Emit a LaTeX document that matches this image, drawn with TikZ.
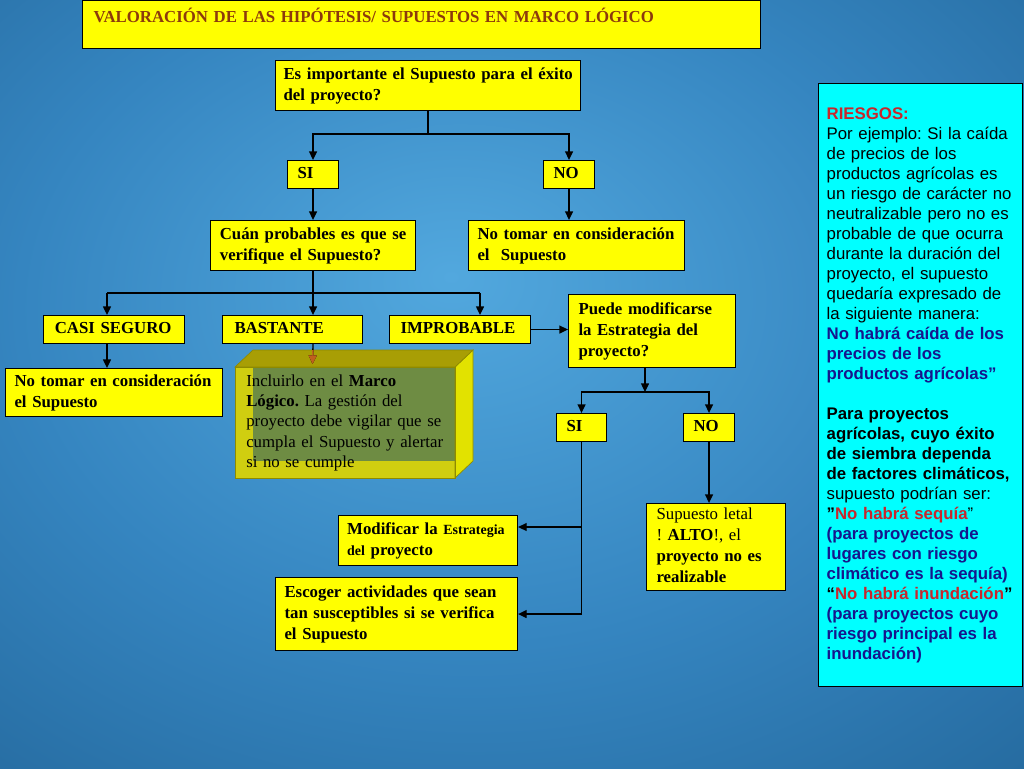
\documentclass[tikz,border=0pt]{standalone}
\usepackage{fontspec}
\setmainfont{Liberation Serif}
\newfontfamily\panelfont{Liberation Sans}
\usetikzlibrary{arrows.meta,calc}
\definecolor{yfill}{HTML}{FFFF00}
\definecolor{ttl}{HTML}{8C3A0C}
\definecolor{pancyan}{HTML}{00FFFF}
\definecolor{rred}{HTML}{C8262C}
\definecolor{rblue}{HTML}{16168C}
\definecolor{bgA}{HTML}{52A8DE}
\definecolor{bgB}{HTML}{3585C0}
\definecolor{bgC}{HTML}{1C5B8C}
\definecolor{bgD}{HTML}{0B3D66}
\definecolor{cubefront}{HTML}{D0CE10}
\definecolor{cubeinner}{HTML}{6E8C43}
\definecolor{cubetop}{HTML}{A89E05}
\definecolor{cuberight}{HTML}{E2E200}
\definecolor{cubeedge}{HTML}{8E8A00}
\definecolor{arrorange}{HTML}{C0601E}
\pgfdeclareradialshading{bgsh}{\pgfpoint{-3bp}{7bp}}{color(0bp)=(bgA); color(22bp)=(bgB); color(50bp)=(bgC); color(72bp)=(bgD)}
\newcommand\boxfs{\fontsize{12.6pt}{15.8pt}\selectfont}
\newcommand\smallfs{\fontsize{10.5pt}{12pt}\selectfont}
\newcommand\tlines[1]{\begin{tabular}{@{}l@{}}#1\end{tabular}}
\frenchspacing
\begin{document}
\frenchspacing
\begin{tikzpicture}[x=0.75pt,y=-0.75pt,
  ybox/.style={draw=black, line width=0.8pt, fill=yfill, font=\boxfs\bfseries\frenchspacing,
    align=left, anchor=north west, inner ysep=1pt, inner xsep=6pt},
  ln/.style={line width=1pt, black},
  arr/.style={ln, -{Triangle[length=6.5pt,width=6pt]}}]
\useasboundingbox (0,0) rectangle (1024,768);
\shade[shading=bgsh] (0,0) rectangle (1024,768);

% title
\node[ybox, minimum width=508.5pt, minimum height=36pt, text width=492pt,
  inner xsep=8.25pt, inner ysep=3pt, text height=13.5pt, text depth=16.5pt, text=ttl]
  (title) at (82,0) {\tlines{VALORACIÓN DE LAS HIPÓTESIS/ SUPUESTOS EN MARCO LÓGICO}};

% flow boxes
\node[ybox, minimum width=228.75pt, minimum height=37.5pt, text width=216.75pt]
  (q1) at (275,60) {\tlines{Es importante el Supuesto para el éxito\\del proyecto?}};
\node[ybox, minimum width=38.25pt, minimum height=21pt, inner xsep=7.5pt, text width=23.25pt]
  (si1) at (287,160) {\tlines{SI}};
\node[ybox, minimum width=38.25pt, minimum height=21pt, inner xsep=7.5pt, text width=23.25pt]
  (no1) at (543,160) {\tlines{NO}};
\node[ybox, minimum width=153.75pt, minimum height=37.5pt, inner xsep=7pt, text width=139.75pt]
  (q2) at (210,220) {\tlines{Cuán probables es que se\\verifique el Supuesto?}};
\node[ybox, minimum width=162pt, minimum height=37.5pt, inner xsep=6.75pt, text width=148.5pt]
  (nt1) at (468,220) {\tlines{No tomar en consideración\\el\ \ Supuesto}};
\node[ybox, minimum width=105.75pt, minimum height=21pt, inner xsep=8.5pt, text width=88.75pt]
  (casi) at (43,315) {\tlines{CASI SEGURO}};
\node[ybox, minimum width=105pt, minimum height=21pt, inner xsep=9pt, text width=87pt]
  (bast) at (222,315) {\tlines{BASTANTE}};
\node[ybox, minimum width=105.75pt, minimum height=21pt, inner xsep=8.25pt, text width=89.25pt]
  (impr) at (389,315) {\tlines{IMPROBABLE}};
\node[ybox, minimum width=125.25pt, minimum height=54.75pt, inner xsep=7.5pt, text width=110.25pt]
  (puede) at (568,294) {\tlines{Puede modificarse\\la Estrategia del\\proyecto?}};
\node[ybox, minimum width=162.75pt, minimum height=36pt, inner xsep=6.75pt, text width=149.25pt]
  (nt2) at (5,368) {\tlines{No tomar en consideración\\el Supuesto}};
\node[ybox, minimum width=37.5pt, minimum height=21pt, inner xsep=7.5pt, text width=22.5pt]
  (si2) at (556,413) {\tlines{SI}};
\node[ybox, minimum width=38.25pt, minimum height=21pt, inner xsep=7.5pt, text width=23.25pt]
  (no2) at (683,413) {\tlines{NO}};
\node[ybox, minimum width=134.25pt, minimum height=37.5pt, inner xsep=6.5pt, text width=121.25pt]
  (modif) at (338,515) {\tlines{Modificar la {\smallfs Estrategia}\\{\smallfs del} proyecto}};
\node[ybox, minimum width=181.5pt, minimum height=54.75pt, inner xsep=6.75pt, text width=168pt]
  (escoger) at (275,577) {\tlines{Escoger actividades que sean\\tan susceptibles si se verifica\\el Supuesto}};
\node[ybox, minimum width=104.25pt, minimum height=65.25pt, inner xsep=7.5pt, text width=89.25pt]
  (letal) at (646,503) {\tlines{\textmd{Supuesto letal}\\\textmd{!} ALTO\textmd{!, el}\\proyecto no es\\realizable}};

% connectors
\coordinate (j1) at ($(q1.south)+(0,23)$);
\draw[ln] (q1.south) -- (j1);
\draw[arr] (j1) -| (si1.north);
\draw[arr] (j1) -| (no1.north);
\draw[arr] (si1.south) -- (q2.north);
\draw[arr] (no1.south) -- (no1.south |- nt1.north);
\coordinate (j2) at ($(q2.south)+(0,23)$);
\coordinate (c1) at (107,293);
\coordinate (c3) at (480,293);
\draw[ln] (q2.south) -- (j2);
\draw[ln] (c1) -- (c3);
\draw[arr] (j2) -- (j2 |- bast.north);
\draw[arr] (c1) -- (c1 |- casi.north);
\draw[arr] (c3) -- (c3 |- impr.north);
\draw[arr] (c1 |- casi.south) -- (c1 |- nt2.north);
\draw[arr] (impr.east) -- (impr.east -| puede.west);
\coordinate (j3) at (645,392);
\draw[arr] (puede.south -| j3) -- (j3);
\draw[arr] (j3) -| (si2.north);
\draw[arr] (j3) -| (no2.north);
\coordinate (j4) at (si2.south |- escoger.east);
\coordinate (j5) at (si2.south |- 0,527);
\draw[ln] (si2.south) -- (j4);
\draw[arr] (j4) -- (escoger.east);
\draw[arr] (j5) -- (j5 -| modif.east);
\draw[arr] (no2.south) -- (no2.south |- letal.north);

% 3D box
\coordinate (fA) at (235,367); \coordinate (fB) at (455,367);
\coordinate (fC) at (455,478); \coordinate (fD) at (235,478);
\coordinate (bA) at (253,350); \coordinate (bB) at (473,350);
\coordinate (bC) at (473,461); \coordinate (iC) at (455,461);
\coordinate (iA) at (253,367);
\fill[cubefront] (fA) rectangle (fC);
\fill[cubeinner] (iA) rectangle (iC);
\fill[cuberight, draw=cubeedge, line width=0.5pt] (fB) -- (bB) -- (bC) -- (fC) -- cycle;
\fill[cubetop, draw=cubeedge, line width=0.5pt] (fA) -- (bA) -- (bB) -- (fB) -- cycle;
\draw[cubeedge, line width=0.5pt] (fA) rectangle (fC);
\coordinate (ctop) at (312.5,364);
\draw[arr] (bast.south -| j2) -- (ctop);
\begin{scope}
\clip (fA) -- (bA) -- (bB) -- (fB) -- cycle;
\draw[arr, arrorange] (bast.south -| j2) -- (ctop);
\end{scope}
\node[anchor=north west, minimum width=165pt, minimum height=83.25pt, inner xsep=8.25pt,
  inner ysep=1pt, text width=148.5pt, align=left, font=\fontsize{12.6pt}{15.2pt}\selectfont\frenchspacing]
  (cube) at (fA) {\tlines{Incluirlo en el \textbf{Marco}\\\textbf{Lógico.} La gestión del\\proyecto debe vigilar que se\\cumpla el Supuesto y alertar\\si no se cumple}};

% right panel
\node[draw=black, line width=1pt, fill=pancyan, anchor=north west, align=left,
  minimum width=153pt, minimum height=452.25pt, inner xsep=6pt, inner ysep=2pt, text width=141pt,
  font=\panelfont\fontsize{12.6pt}{15pt}\selectfont\frenchspacing]
  (panel) at (818,83) {\tlines{\textcolor{rred}{\textbf{RIESGOS:}}\\
Por ejemplo: Si la caída\\
de precios de los\\
productos agrícolas es\\
un riesgo de carácter no\\
neutralizable pero no es\\
probable de que ocurra\\
durante la duración del\\
proyecto, el supuesto\\
quedaría expresado de\\
la siguiente manera:\\
\textcolor{rblue}{\textbf{No habrá caída de los}}\\
\textcolor{rblue}{\textbf{precios de los}}\\
\textcolor{rblue}{\textbf{productos agrícolas”}}\\[15pt]
\textbf{Para proyectos}\\
\textbf{agrícolas, cuyo éxito}\\
\textbf{de siembra dependa}\\
\textbf{de factores climáticos,}\\
supuesto podrían ser:\\
\textbf{”\textcolor{rred}{No habrá sequía}}”\\
\textcolor{rblue}{\textbf{(para proyectos de}}\\
\textcolor{rblue}{\textbf{lugares con riesgo}}\\
\textcolor{rblue}{\textbf{climático es la sequía)}}\\
\textbf{“\textcolor{rred}{No habrá inundación}”}\\
\textcolor{rblue}{\textbf{(para proyectos cuyo}}\\
\textcolor{rblue}{\textbf{riesgo principal es la}}\\
\textcolor{rblue}{\textbf{inundación)}}}};
\end{tikzpicture}
\end{document}
